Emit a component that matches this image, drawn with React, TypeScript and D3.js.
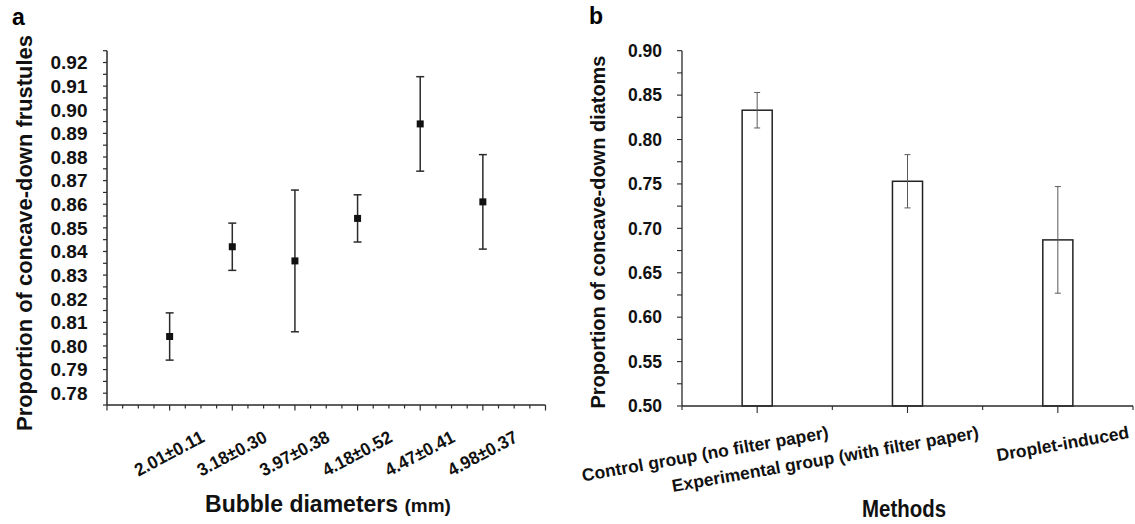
import React from "react";
import * as d3 from "d3";

// ---------- Data ----------
const diameterLabels = ["2.01±0.11", "3.18±0.30", "3.97±0.38", "4.18±0.52", "4.47±0.41", "4.98±0.37"];
const frustuleMeans = [0.804, 0.842, 0.836, 0.854, 0.894, 0.861];
const frustuleErrors = [0.01, 0.01, 0.03, 0.01, 0.02, 0.02];
const frustuleTickLabels = ["0.78", "0.79", "0.80", "0.81", "0.82", "0.83", "0.84", "0.85", "0.86", "0.87", "0.88", "0.89", "0.90", "0.91", "0.92"];

const methodLabels = ["Control group (no filter paper)", "Experimental group (with filter paper)", "Droplet-induced"];
const diatomMeans = [0.833, 0.753, 0.687];
const diatomErrors = [0.02, 0.03, 0.06];
const diatomTickLabels = ["0.50", "0.55", "0.60", "0.65", "0.70", "0.75", "0.80", "0.85", "0.90"];

const FONT = "'Liberation Sans', Arial, Helvetica, sans-serif";

function PanelA() {
  const x = d3.scaleLinear().domain([0, 7]).range([107, 545.5]);
  const y = d3.scaleLinear().domain([0.775, 0.925]).range([405, 50.7]);
  const minorY = d3.range(0, 31).map((i) => 0.775 + i * 0.005);
  const xTicks = d3.range(0, 29).map((i) => i * 0.25);
  const axisColor = "#2a2a2a";
  return (
    <g fontFamily={FONT}>
      <text x={12} y={25} fontSize={23} fontWeight="bold">a</text>
      {/* axes */}
      <line x1={x(0)} x2={x(0)} y1={y(0.925)} y2={y(0.775)} stroke={axisColor} strokeWidth={1.5} />
      <line x1={x(0)} x2={x(7)} y1={y(0.775)} y2={y(0.775)} stroke={axisColor} strokeWidth={1.5} />
      {minorY.map((v, i) => (
        <line key={"ym" + i} x1={x(0) - 4} x2={x(0)} y1={y(v)} y2={y(v)} stroke={axisColor} strokeWidth={1.2} />
      ))}
      {frustuleTickLabels.map((t) => (
        <text key={"yl" + t} x={87.5} y={y(+t)} dy="0.36em" textAnchor="end" fontSize={19} fontWeight="bold" fill="#111">
          {t}
        </text>
      ))}
      {xTicks.map((v, i) => {
        const major = Math.abs(v - Math.round(v)) < 1e-6;
        return (
          <line key={"xt" + i} x1={x(v)} x2={x(v)} y1={y(0.775)} y2={y(0.775) + (major ? 5.5 : 3.5)} stroke={axisColor} strokeWidth={1.2} />
        );
      })}
      {diameterLabels.map((t, i) => (
        <text
          key={"xl" + i}
          transform={`translate(${x(i + 1) + 36},${441}) rotate(-28)`}
          textAnchor="end"
          fontSize={18}
          fontWeight="bold"
          fill="#111"
          textLength={76}
          lengthAdjust="spacingAndGlyphs"
        >
          {t}
        </text>
      ))}
      {/* error bars */}
      {frustuleMeans.map((m, i) => {
        const cx = x(i + 1);
        const top = y(m + frustuleErrors[i]);
        const bot = y(m - frustuleErrors[i]);
        return (
          <g key={"eb" + i} stroke="#2b2b2b" strokeWidth={1.5}>
            <line x1={cx} x2={cx} y1={top} y2={bot} />
            <line x1={cx - 4} x2={cx + 4} y1={top} y2={top} />
            <line x1={cx - 4} x2={cx + 4} y1={bot} y2={bot} />
          </g>
        );
      })}
      {frustuleMeans.map((m, i) => (
        <rect key={"pt" + i} x={x(i + 1) - 3.5} y={y(m) - 3.5} width={7} height={7} fill="#111" />
      ))}
      {/* titles */}
      <text
        transform={`translate(32,233) rotate(-90)`}
        textAnchor="middle"
        fontSize={21.5}
        fontWeight="bold"
        fill="#111"
        textLength={396}
        lengthAdjust="spacingAndGlyphs"
      >
        Proportion of concave-down frustules
      </text>
      <text x={328} y={511.5} textAnchor="middle" fontSize={23} fontWeight="bold" fill="#111">
        Bubble diameters <tspan fontSize={19}>(mm)</tspan>
      </text>
    </g>
  );
}

function PanelB() {
  const x = d3.scaleBand<string>().domain(methodLabels).range([682, 1133]);
  const y = d3.scaleLinear().domain([0.5, 0.9]).range([406, 50.7]);
  const minorY = d3.range(0, 17).map((i) => 0.5 + i * 0.025);
  const bw = x.bandwidth();
  const xTicks = d3.range(0, 7).map((i) => i * 0.5);
  const axisColor = "#2a2a2a";
  return (
    <g fontFamily={FONT}>
      <text x={589} y={24} fontSize={23} fontWeight="bold">b</text>
      {/* bars */}
      {diatomMeans.map((m, i) => {
        const cx = (x(methodLabels[i]) as number) + bw / 2;
        const w = bw * 0.2;
        return (
          <rect key={"bar" + i} x={cx - w / 2} y={y(m)} width={w} height={y(0.5) - y(m)} fill="#fff" stroke="#222" strokeWidth={1.5} />
        );
      })}
      {diatomMeans.map((m, i) => {
        const cx = (x(methodLabels[i]) as number) + bw / 2;
        const top = y(m + diatomErrors[i]);
        const bot = y(m - diatomErrors[i]);
        return (
          <g key={"eb" + i} stroke="#5a5a5a" strokeWidth={1}>
            <line x1={cx} x2={cx} y1={top} y2={bot} />
            <line x1={cx - 3} x2={cx + 3} y1={top} y2={top} />
            <line x1={cx - 3} x2={cx + 3} y1={bot} y2={bot} />
          </g>
        );
      })}
      {/* axes */}
      <line x1={682} x2={682} y1={y(0.9)} y2={y(0.5)} stroke={axisColor} strokeWidth={1.3} />
      <line x1={682} x2={1133} y1={y(0.5)} y2={y(0.5)} stroke={axisColor} strokeWidth={1.3} />
      {minorY.map((v, i) => (
        <line key={"ym" + i} x1={682 - 5} x2={682} y1={y(v)} y2={y(v)} stroke={axisColor} strokeWidth={1.1} />
      ))}
      {diatomTickLabels.map((t) => (
        <text key={"yl" + t} x={662} y={y(+t)} dy="0.36em" textAnchor="end" fontSize={17.5} fontWeight="bold" fill="#111">
          {t}
        </text>
      ))}
      {xTicks.map((v, i) => {
        const major = Math.abs(v - Math.round(v)) > 1e-6;
        return (
          <line key={"xt" + i} x1={682 + v * bw} x2={682 + v * bw} y1={y(0.5)} y2={y(0.5) + (major ? 7 : 4)} stroke={axisColor} strokeWidth={1.1} />
        );
      })}
      {methodLabels.map((t, i) => {
        const cx = (x(t) as number) + bw / 2;
        return (
          <text
            key={"xl" + i}
            transform={`translate(${cx + 72},${438}) rotate(-10)`}
            textAnchor="end"
            fontSize={17.5}
            fontWeight="bold"
            fill="#111"
          >
            {t}
          </text>
        );
      })}
      <text
        transform={`translate(605,232) rotate(-90)`}
        textAnchor="middle"
        fontSize={19.5}
        fontWeight="bold"
        fill="#111"
        textLength={353}
        lengthAdjust="spacingAndGlyphs"
      >
        Proportion of concave-down diatoms
      </text>
      <text x={904} y={516.5} textAnchor="middle" fontSize={23} fontWeight="bold" fill="#111" textLength={84} lengthAdjust="spacingAndGlyphs">
        Methods
      </text>
    </g>
  );
}

export default function App() {
  return (
    <div style={{ position: "absolute", left: 0, top: 0 }}>
      <svg width={1135} height={524} viewBox="0 0 1135 524" style={{ display: "block", background: "#fff" }}>
        <rect width={1135} height={524} fill="#fff" />
        <PanelA />
        <PanelB />
      </svg>
    </div>
  );
}
